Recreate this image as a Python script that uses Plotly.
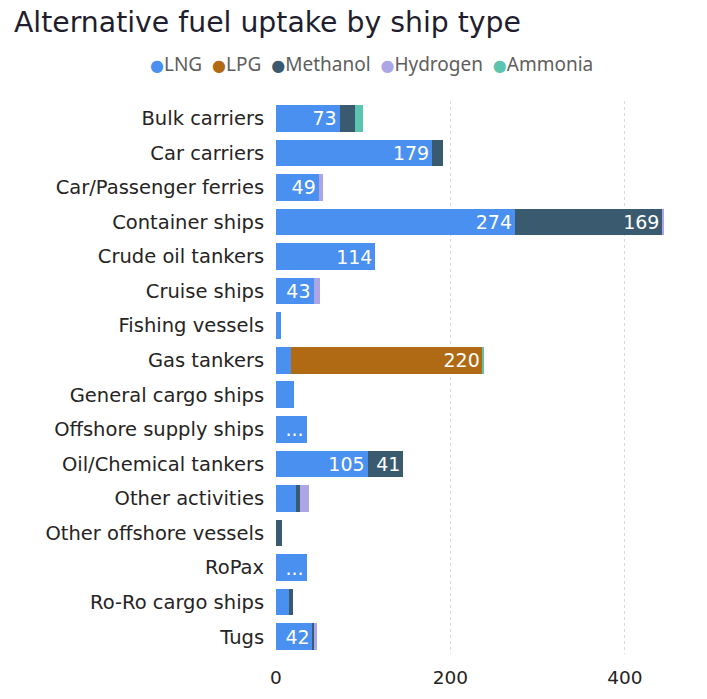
import plotly.graph_objects as go

# Ship types (top to bottom)
ship_types = [
    "Bulk carriers", "Car carriers", "Car/Passenger ferries", "Container ships",
    "Crude oil tankers", "Cruise ships", "Fishing vessels", "Gas tankers",
    "General cargo ships", "Offshore supply ships", "Oil/Chemical tankers",
    "Other activities", "Other offshore vessels", "RoPax", "Ro-Ro cargo ships", "Tugs",
]

# Number of ships per fuel
lng      = [73, 179, 49, 274, 114, 43, 6, 17, 21, 35, 105, 23, 0, 35, 15, 42]
lpg      = [0, 0, 0, 0, 0, 0, 0, 220, 0, 0, 0, 0, 0, 0, 0, 0]
methanol = [18, 13, 0, 169, 0, 0, 0, 0, 0, 0, 41, 4, 7, 0, 5, 2]
hydrogen = [0, 0, 5, 2, 0, 7, 0, 0, 0, 0, 0, 11, 0, 0, 0, 3]
ammonia  = [9, 0, 0, 0, 0, 0, 0, 2, 0, 0, 0, 0, 0, 0, 0, 0]

x_ticks = [0, 200, 400]

series = [
    ("LNG", lng, "#4A90F0"),
    ("LPG", lpg, "#B06A14"),
    ("Methanol", methanol, "#3A5A70"),
    ("Hydrogen", hydrogen, "#ADA6E6"),
    ("Ammonia", ammonia, "#5CC5B0"),
]


def bar_label(v):
    # full value when there is room, an ellipsis when it is tight, nothing otherwise
    if v >= 40:
        return str(v)
    if v >= 30:
        return "..."
    return ""


MAIN_FONT = "DejaVu Sans, Verdana, sans-serif"
LEGEND_FONT = "Noto Sans, Open Sans, sans-serif"
TEXT_DARK = "#252423"

fig = go.Figure()
for name, vals, color in series:
    fig.add_trace(go.Bar(
        y=ship_types, x=vals, orientation="h", name=name,
        marker=dict(color=color, line=dict(width=0)),
        text=[bar_label(v) for v in vals],
        textposition="inside", insidetextanchor="end", textangle=0,
        constraintext="none",
        textfont=dict(color="white", size=19, family=MAIN_FONT),
        showlegend=False,
    ))

# Legend row: coloured dots followed by the series names
legend_html = "&nbsp;&nbsp;".join(
    f"<span style='color:{color};font-size:16px;font-family:DejaVu Sans'>●</span>{name}"
    for name, _, color in series
)
fig.add_annotation(
    text=legend_html, showarrow=False,
    xref="paper", yref="paper",
    x=(371 - 276) / 410, y=1 + (101 - 64) / 553,
    xanchor="center", yanchor="middle",
    font=dict(size=19, color="#605E5C", family=LEGEND_FONT),
)

fig.update_layout(
    width=707, height=699,
    barmode="stack", bargap=0.23,
    paper_bgcolor="white", plot_bgcolor="white",
    margin=dict(l=276, r=21, t=101, b=45),
    font=dict(family=MAIN_FONT, color=TEXT_DARK),
    showlegend=False,
    title=dict(
        text="Alternative fuel uptake by ship type",
        font=dict(size=28.3, color="#1F1E2E", family=MAIN_FONT),
        xref="container", x=14 / 707, xanchor="left",
        yref="container", y=1 - 22 / 699, yanchor="middle",
    ),
    xaxis=dict(
        range=[0, 470], tickvals=x_ticks,
        showgrid=True, gridcolor="#D9D9D9", griddash="dot", gridwidth=1,
        zeroline=False, showline=False,
        tickfont=dict(size=18.5, color=TEXT_DARK),
        ticks="", ticklabelstandoff=10,
    ),
    yaxis=dict(
        autorange="reversed", showgrid=False, zeroline=False,
        tickfont=dict(size=19.5, color=TEXT_DARK),
        ticks="outside", ticklen=7, tickcolor="rgba(0,0,0,0)",
    ),
)

fig.write_html("out.html")
